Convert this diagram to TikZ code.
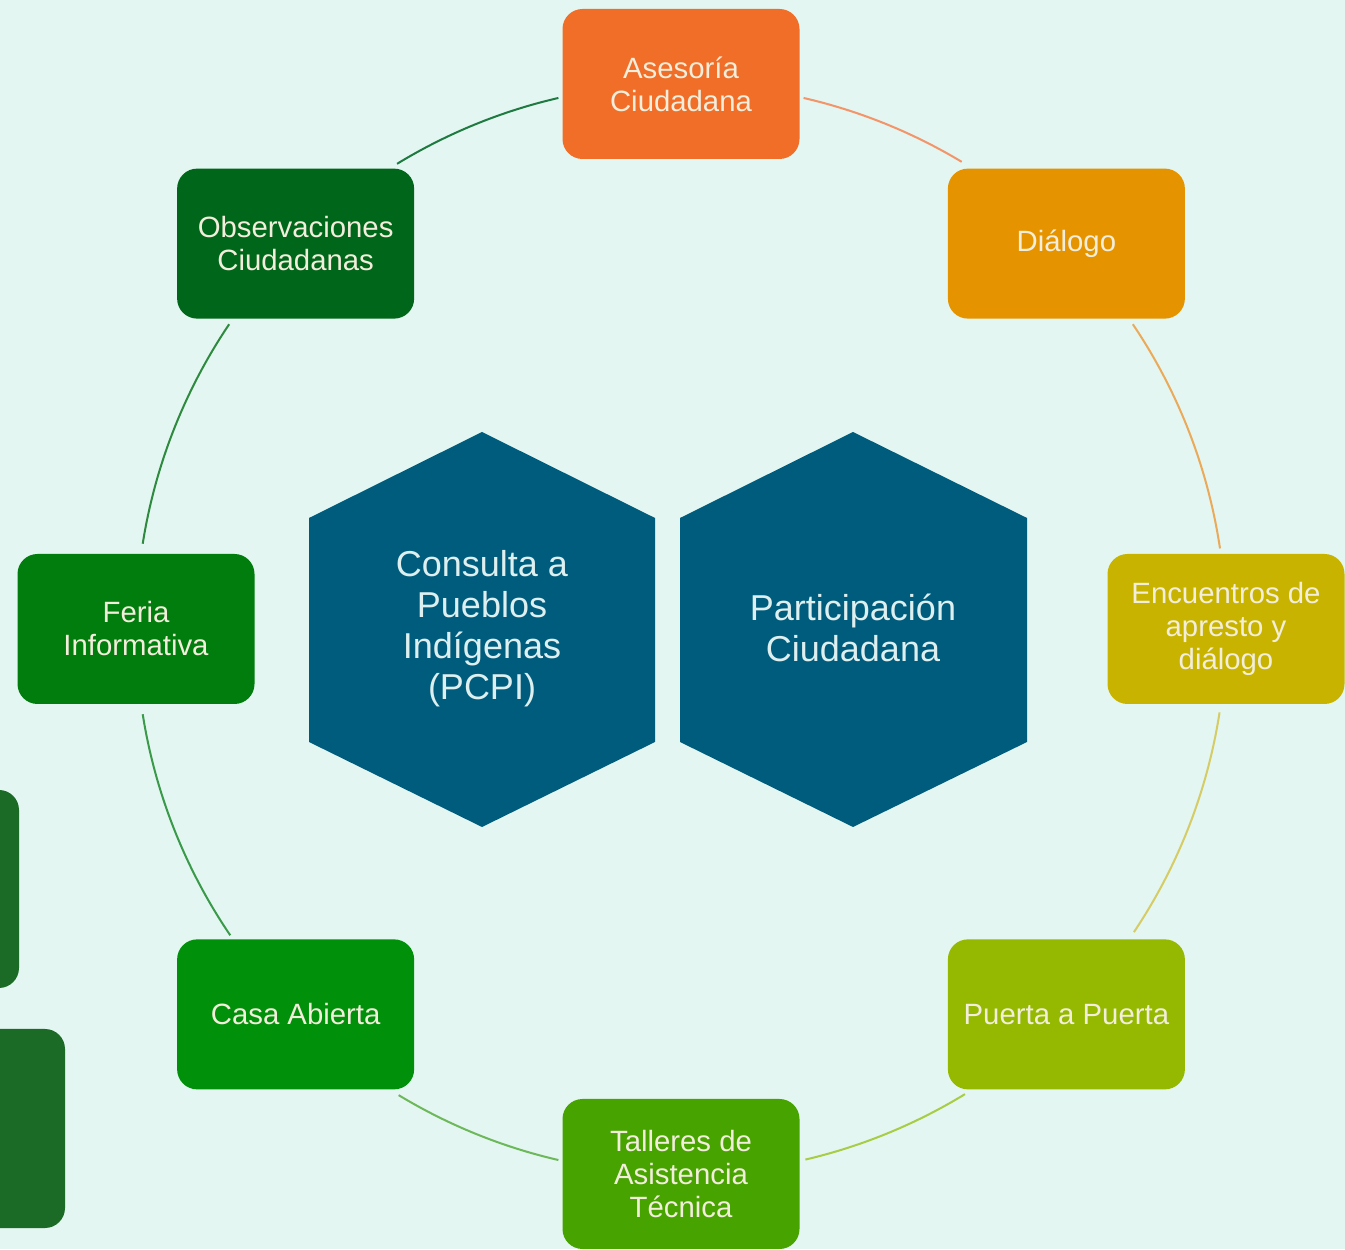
\documentclass[tikz,border=0pt]{standalone}
\usepackage{fontspec}
\setmainfont{Liberation Sans}
\usetikzlibrary{calc}
\definecolor{bg}{HTML}{E3F6F1}
\definecolor{cAses}{HTML}{F06E28}
\definecolor{cDial}{HTML}{E59400}
\definecolor{cEnc}{HTML}{C8B400}
\definecolor{cPuer}{HTML}{94B900}
\definecolor{cTall}{HTML}{46A300}
\definecolor{cCasa}{HTML}{00900A}
\definecolor{cFer}{HTML}{007D0C}
\definecolor{cObs}{HTML}{00661A}
\definecolor{cHex}{HTML}{005C7D}
\definecolor{cSide}{HTML}{1B6B27}
\definecolor{boxtext}{HTML}{F3EEDB}
\definecolor{hextxt}{HTML}{DDEFEF}
\definecolor{a1}{HTML}{F3946A}
\definecolor{a2}{HTML}{EBAA5A}
\definecolor{a3}{HTML}{D6CC66}
\definecolor{a4}{HTML}{A8CC44}
\definecolor{a5}{HTML}{6CB85A}
\definecolor{a6}{HTML}{3A9A4A}
\definecolor{a7}{HTML}{2E8A3E}
\definecolor{a8}{HTML}{1E7A40}
\begin{document}
\begin{tikzpicture}[x=0.75pt,y=0.75pt,
  box/.style={rectangle, rounded corners=15pt, minimum width=177.75pt,
    minimum height=112.5pt, text=boxtext, align=center, inner sep=0pt,
    font=\fontsize{22}{24.75}\selectfont},
  hextext/.style={text=hextxt, align=center, inner sep=0pt,
    font=\fontsize{27}{30.75}\selectfont},
  link/.style={line width=1.5pt}]
\fill[bg] (0,0) rectangle (1345,1249);
\useasboundingbox (0,0) rectangle (1345,1249);
\coordinate (C) at (681,620);
% side rectangles at left edge
\fill[cSide, rounded corners=15pt] (-40,261) rectangle (19,459);
\fill[cSide, rounded corners=15pt] (-40,21) rectangle (65,220);
% arcs
\draw[link, a1] ($(C)+(77:545)$) arc[start angle=77, end angle=59, radius=545];
\draw[link, a2] ($(C)+(34:545)$) arc[start angle=34, end angle=8.5, radius=545];
\draw[link, a3] ($(C)+(-8.8:545)$) arc[start angle=-8.8, end angle=-33.8, radius=545];
\draw[link, a4] ($(C)+(-58.6:545)$) arc[start angle=-58.6, end angle=-76.8, radius=545];
\draw[link, a5] ($(C)+(-103:545)$) arc[start angle=-103, end angle=-121.2, radius=545];
\draw[link, a6] ($(C)+(-145.8:545)$) arc[start angle=-145.8, end angle=-171, radius=545];
\draw[link, a7] ($(C)+(171:545)$) arc[start angle=171, end angle=146, radius=545];
\draw[link, a8] ($(C)+(121.4:545)$) arc[start angle=121.4, end angle=103, radius=545];
% boxes
\node[box, fill=cAses] (ases) at ($(C)+(90:545)$) {Asesoría\\Ciudadana};
\node[box, fill=cDial] (dial) at ($(C)+(45:545)$) {Diálogo};
\node[box, fill=cEnc] (enc) at ($(C)+(0:545)$) {Encuentros de\\apresto y\\diálogo};
\node[box, fill=cPuer] (puer) at ($(C)+(-45:545)$) {Puerta a Puerta};
\node[box, fill=cTall] (tall) at ($(C)+(-90:545)$) {Talleres de\\Asistencia\\Técnica};
\node[box, fill=cCasa] (casa) at ($(C)+(-135:545)$) {Casa Abierta};
\node[box, fill=cFer] (fer) at ($(C)+(180:545)$) {Feria\\Informativa};
\node[box, fill=cObs] (obs) at ($(C)+(135:545)$) {Observaciones\\Ciudadanas};
% hexagons
\fill[cHex] (482,817) -- (655,731) -- (655,507) -- (482,422) -- (309,507) -- (309,731) -- cycle;
\fill[cHex] (853,817) -- (1027,731) -- (1027,507) -- (853,422) -- (680,507) -- (680,731) -- cycle;
\node[hextext] (pcpi) at (482,620) {Consulta a\\Pueblos\\Indígenas\\(PCPI)};
\node[hextext] (pc) at (853,621) {Participación\\Ciudadana};
\end{tikzpicture}
\end{document}
